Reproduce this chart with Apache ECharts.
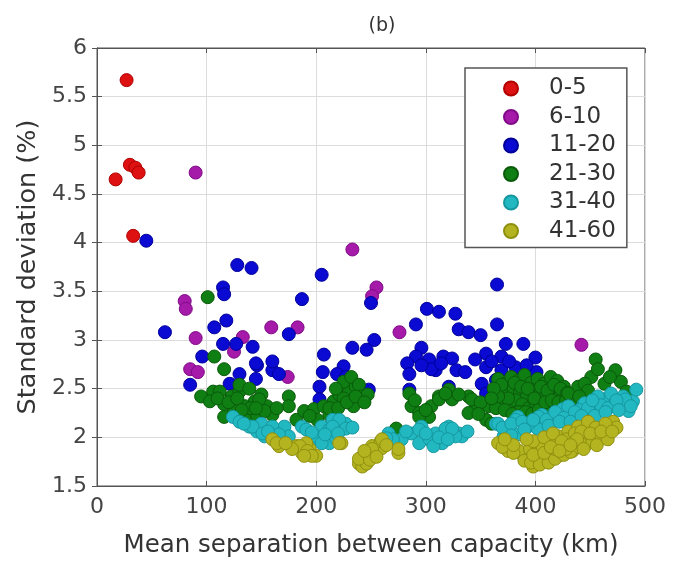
<!DOCTYPE html>
<html>
<head>
<meta charset="utf-8">
<script src="https://cdn.jsdelivr.net/npm/echarts@6/dist/echarts.min.js"></script>
<style>
html,body{margin:0;padding:0;background:#fff;}
#chart{width:677px;height:563px;}
</style>
</head>
<body>
<div id="chart"></div>
<script>
// ---- data (x: mean separation km, y: standard deviation %) ----
const categories = ["0-5", "6-10", "11-20", "21-30", "31-40", "41-60"];
const xTicks = [0, 100, 200, 300, 400, 500];
const yTicks = [1.5, 2, 2.5, 3, 3.5, 4, 4.5, 5, 5.5, 6];

const pts_0_5 = [[27,5.67],[17,4.65],[30,4.80],[35,4.77],[38,4.72],[33,4.07]];

const pts_6_10 = [[90,4.72],[233,3.93],[255,3.54],[276,3.08],[442,2.95],[159,3.13],[183,3.13],
  [80,3.40],[81,3.32],[90,3.02],[85,2.70],[92,2.67],[133,3.03],[125,2.88],[174,2.62],[251,3.45]];

const pts_11_20 = [[45,4.02],[128,3.77],[141,3.74],[205,3.67],[187,3.42],[115,3.54],[116,3.47],
  [62,3.08],[107,3.13],[118,3.20],[115,2.96],[96,2.83],[85,2.54],[127,2.96],[142,2.93],[146,2.74],
  [145,2.60],[130,2.65],[121,2.55],[160,2.69],[166,2.65],[175,3.06],[207,2.85],[206,2.67],[203,2.52],
  [203,2.39],[233,2.92],[253,3.00],[246,2.90],[225,2.73],[291,3.16],[301,3.32],[312,3.29],[327,3.27],
  [296,2.92],[365,3.57],[365,3.16],[330,3.11],[339,3.08],[350,3.05],[248,2.49],[291,2.83],[283,2.76],
  [285,2.65],[303,2.80],[309,2.69],[316,2.83],[324,2.81],[328,2.69],[336,2.67],[285,2.49],[321,2.52],
  [355,2.86],[355,2.72],[351,2.55],[355,2.45],[373,2.96],[369,2.83],[369,2.69],[364,2.59],[389,2.96],
  [400,2.82],[382,2.72],[305,2.70],[401,2.67],[219,2.65],[250,3.38],[227,2.62],[145,2.76],[160,2.78],
  [376,2.78],[392,2.74],[360,2.78],[345,2.80],[314,2.76],[296,2.74]];

const pts_21_30 = [[101,3.44],[107,2.83],[116,2.70],[175,2.42],[175,2.32],
  [95,2.42],[106,2.47],[103,2.37],[116,2.34],[123,2.42],[130,2.47],[135,2.32],[144,2.37],[150,2.44],
  [155,2.32],[160,2.23],[116,2.21],[125,2.27],[137,2.21],[146,2.23],[112,2.47],[130,2.54],[139,2.50],
  [148,2.39],[153,2.27],[164,2.30],[110,2.40],[120,2.36],[128,2.40],[140,2.30],[132,2.28],[145,2.30],
  [182,2.18],[189,2.27],[198,2.29],[207,2.32],[216,2.37],[221,2.44],[230,2.47],[236,2.52],[225,2.57],
  [232,2.62],[239,2.54],[241,2.42],[212,2.23],[201,2.18],[234,2.32],[247,2.44],[212,2.30],[225,2.40],
  [194,2.22],[220,2.30],[228,2.36],[236,2.42],[218,2.50],[244,2.36],
  [273,2.09],[285,2.45],[287,2.32],[294,2.25],[312,2.42],[321,2.49],[305,2.32],[303,2.21],[339,2.42],
  [345,2.29],[355,2.18],[357,2.32],[342,2.39],[339,2.25],[360,2.14],[312,2.39],[324,2.39],[294,2.21],
  [290,2.38],[300,2.28],[318,2.45],[330,2.44],[350,2.36],[348,2.24],
  [366,2.60],[372,2.55],[378,2.62],[384,2.58],[390,2.64],[396,2.56],[402,2.60],[408,2.55],[414,2.62],
  [420,2.58],[426,2.52],[368,2.48],[374,2.44],[380,2.50],[386,2.46],[392,2.42],[398,2.48],[404,2.44],
  [410,2.40],[416,2.46],[422,2.42],[370,2.36],[376,2.32],[382,2.38],[388,2.34],[394,2.30],[400,2.36],
  [406,2.32],[412,2.28],[418,2.34],[424,2.30],[364,2.30],[385,2.26],
  [369,2.54],[375,2.40],[381,2.56],[387,2.52],[393,2.50],[399,2.40],[405,2.52],[411,2.48],[417,2.54],
  [423,2.50],[429,2.46],[372,2.28],[379,2.24],[391,2.26],[397,2.24],[403,2.28],[409,2.36],[415,2.38],
  [421,2.36],[428,2.38],[366,2.42],[362,2.50],[360,2.40],
  [455,2.80],[473,2.69],[478,2.57],[483,2.47],[451,2.62],[439,2.52],[433,2.39],[463,2.55],[445,2.55],
  [430,2.45],[457,2.70],[448,2.48],[468,2.62],[440,2.42]];

const pts_31_40 = [[124,2.21],[130,2.16],[139,2.11],[146,2.06],[153,2.01],[150,2.14],[159,2.08],
  [165,2.03],[171,2.11],[175,2.01],[142,2.11],[151,2.04],[160,2.11],[166,2.03],[134,2.14],[156,2.06],
  [187,2.11],[205,2.11],[215,2.18],[200,1.98],[212,1.94],[191,2.08],[200,2.01],[212,2.08],[227,2.14],
  [218,1.99],[205,1.94],[221,2.18],[227,2.09],[215,2.11],[196,2.05],[208,2.03],[220,2.04],[233,2.10],
  [287,2.04],[296,2.11],[309,2.04],[321,2.11],[330,2.04],[303,1.98],[294,1.94],[266,2.04],[260,1.94],
  [278,1.98],[315,1.94],[333,2.01],[294,2.08],[303,1.99],[307,1.91],[318,2.09],[327,2.01],[324,2.09],
  [270,1.98],[282,2.06],[300,2.04],[312,2.00],[320,1.98],[338,2.06],[264,1.99],
  [364,2.14],[375,2.06],[384,2.21],[393,2.11],[406,2.23],[415,2.16],[425,2.29],[434,2.21],[444,2.34],
  [453,2.27],[462,2.39],[471,2.33],[480,2.42],[489,2.37],[492,2.49],[485,2.27],[371,2.01],[384,2.03],
  [402,2.09],[366,2.14],[382,2.18],[394,2.14],[403,2.21],[430,2.32],[445,2.35],[457,2.42],[469,2.45],
  [482,2.39],[487,2.32],[420,2.22],[440,2.28],[460,2.33],
  [370,2.10],[378,2.14],[388,2.16],[398,2.18],[410,2.18],[418,2.26],[426,2.20],[436,2.26],[448,2.30],
  [466,2.30],[474,2.38],[452,2.38],[476,2.28],[412,2.12],[422,2.16],[432,2.16],[442,2.22],[454,2.22],
  [464,2.26],[390,2.08],[378,2.02]];

const pts_41_60 = [[160,1.98],[166,1.91],[182,1.91],[187,1.84],[194,1.88],[200,1.81],[191,1.94],
  [164,1.94],[185,1.91],[192,1.86],[196,1.81],[189,1.81],[223,1.94],[178,1.88],[172,1.94],
  [275,1.84],[239,1.73],[245,1.81],[254,1.84],[260,1.89],[251,1.91],[259,1.96],[242,1.70],[246,1.73],
  [239,1.78],[251,1.88],[260,1.98],[275,1.88],[221,1.94],[249,1.77],[255,1.80],[264,1.92],[244,1.86],
  [366,1.94],[375,1.86],[389,1.81],[398,1.70],[407,1.76],[416,1.86],[425,1.91],[434,1.96],[444,2.01],
  [453,2.06],[462,2.11],[471,2.16],[403,1.86],[412,1.96],[421,2.01],[430,2.06],[439,2.11],[448,2.16],
  [394,1.81],[385,1.86],[421,1.81],[434,1.86],[448,1.96],[457,2.01],[400,1.78],[410,1.80],
  [370,1.90],[380,1.84],[390,1.76],[396,1.74],[404,1.72],[412,1.74],[418,1.78],[426,1.82],[432,1.85],
  [440,1.90],[446,1.92],[452,1.96],[460,2.00],[466,2.04],[474,2.10],[405,1.92],[415,1.94],[428,1.98],
  [436,2.04],[442,2.06],[455,2.10],[464,2.14],[418,1.88],[428,1.88],[395,1.88],[380,1.92],[372,1.98],
  [398,1.96],[392,1.98],[408,2.00],[416,2.04],[424,1.96],[438,1.98],[444,1.88],[456,1.92],[466,1.98],
  [398,1.82],[408,1.84],[414,1.90],[422,1.86],[432,1.92],[450,2.04],[460,2.06],[470,2.06]];

const seriesData = [pts_0_5, pts_6_10, pts_11_20, pts_21_30, pts_31_40, pts_41_60];
const colors = ["#dd1111", "#a51aa8", "#0a0ad2", "#0f7f14", "#22b8c2", "#b4b420"];
const borders = ["#b00000", "#800a88", "#000099", "#0a5a0a", "#15979f", "#8f8f10"];

// ---- chart ----
const FONT = "DejaVu Sans";
const chart = echarts.init(document.getElementById("chart"), null, {renderer: "canvas"});
const axisCommon = {
  axisLine: {show: true, lineStyle: {color: "#555", width: 1}},
  axisTick: {show: true, inside: true, length: 5, lineStyle: {color: "#555"}},
  splitLine: {show: true, lineStyle: {color: "#dcdcdc", width: 1}},
  axisLabel: {color: "#444", fontFamily: FONT, fontSize: 22}
};
chart.setOption({
  animation: false,
  backgroundColor: "#fff",
  color: colors,
  title: {
    text: "(b)", left: 377, top: 12, textAlign: "center",
    textStyle: {fontFamily: FONT, fontSize: 19, fontWeight: "normal", color: "#333"}
  },
  grid: {left: 97, right: 32, top: 48, bottom: 73, show: true, borderColor: "#555", borderWidth: 1, containLabel: false},
  legend: {
    orient: "vertical", left: 465, top: 68,
    padding: [9, 11, 5, 38],
    backgroundColor: "#fff", borderColor: "#555", borderWidth: 1.5,
    itemWidth: 14, itemHeight: 14, itemGap: 5.5, icon: "circle",
    textStyle: {fontFamily: FONT, fontSize: 23, color: "#333", lineHeight: 20, padding: [0, 0, 0, 26]},
    data: categories
  },
  xAxis: [{
    type: "value", min: xTicks[0], max: xTicks[xTicks.length - 1], interval: 100,
    name: "Mean separation between capacity (km)", nameLocation: "middle", nameGap: 47,
    nameTextStyle: {fontFamily: FONT, fontSize: 24.5, color: "#333"},
    ...axisCommon, axisLabel: {...axisCommon.axisLabel, margin: 10}
  }, {
    type: "value", position: "top", min: xTicks[0], max: xTicks[xTicks.length - 1], interval: 100,
    axisLine: {show: true, lineStyle: {color: "#555"}}, axisTick: {show: true, inside: true, length: 5, lineStyle: {color: "#555"}},
    axisLabel: {show: false}, splitLine: {show: false}
  }],
  yAxis: [{
    type: "value", min: yTicks[0], max: yTicks[yTicks.length - 1], interval: 0.5,
    name: "Standard deviation (%)", nameLocation: "middle", nameGap: 56,
    nameTextStyle: {fontFamily: FONT, fontSize: 25.5, color: "#333"},
    ...axisCommon, axisLabel: {...axisCommon.axisLabel, margin: 10}
  }, {
    type: "value", position: "right", min: yTicks[0], max: yTicks[yTicks.length - 1], interval: 0.5,
    axisLine: {show: true, lineStyle: {color: "#555"}}, axisTick: {show: true, inside: true, length: 5, lineStyle: {color: "#555"}},
    axisLabel: {show: false}, splitLine: {show: false}
  }],
  series: categories.map((c, i) => ({
    name: c, type: "scatter", data: seriesData[i], symbol: "circle", symbolSize: 13,
    itemStyle: {color: colors[i], borderColor: borders[i], borderWidth: 1, opacity: 1},
    xAxisIndex: 0, yAxisIndex: 0
  }))
});
</script>
</body>
</html>
